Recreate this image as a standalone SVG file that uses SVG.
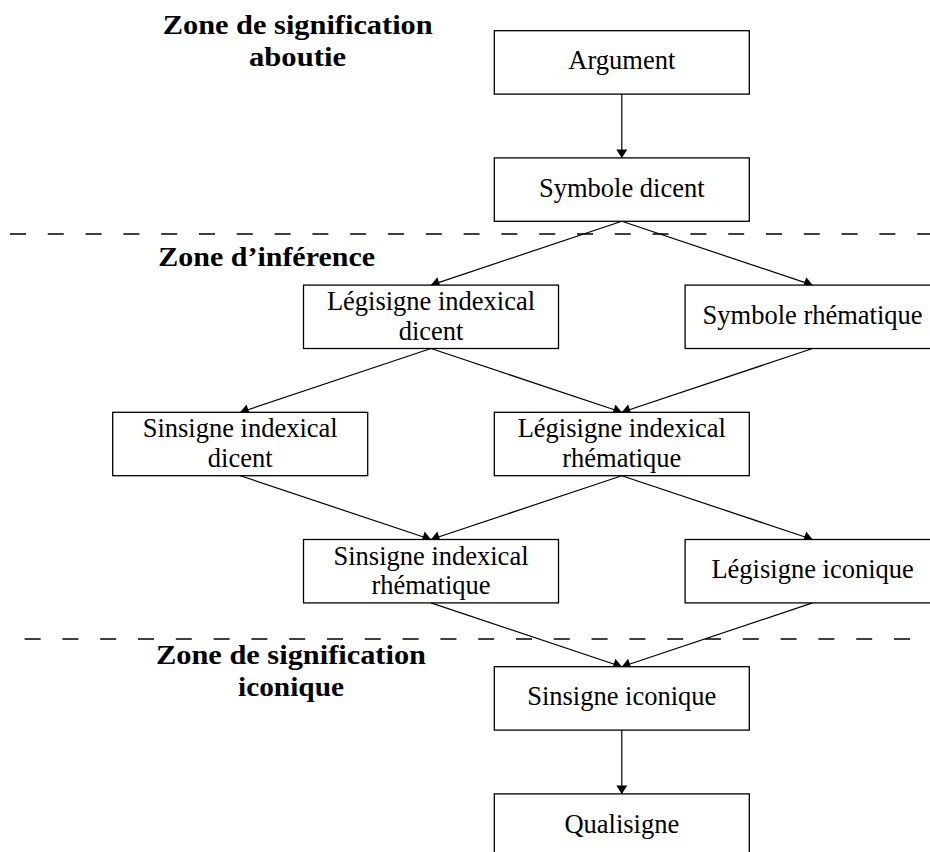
<svg xmlns="http://www.w3.org/2000/svg" width="930" height="852" viewBox="0 0 930 852">
<style>
.box{fill:#fff;stroke:#000;stroke-width:1.3}
.t{font-family:"Liberation Serif","Times New Roman",serif;font-size:26.5px;fill:#000;text-anchor:middle}
.h{font-family:"Liberation Serif","Times New Roman",serif;font-size:28px;font-weight:bold;fill:#000}
.e{stroke:#000;stroke-width:1.2;fill:none;marker-end:url(#ah)}
.d{stroke:#000;stroke-width:1.3;stroke-dasharray:16 21.8;fill:none}
</style>
<defs>
<marker id="ah" viewBox="-9 -6 10 12" refX="0" refY="0" markerWidth="10" markerHeight="12" markerUnits="userSpaceOnUse" orient="auto">
<path d="M0,0 L-8.5,-5.5 L-8.5,5.5 Z" fill="#000"/>
</marker>
</defs>
<rect width="930" height="852" fill="#fff"/>
<g id="zones">
<line class="d" x1="10" y1="234" x2="935" y2="234"/>
<line class="d" x1="24.6" y1="639" x2="935" y2="639"/>
<text class="h" x="297.7" y="34" text-anchor="middle"><tspan x="297.7" y="34" textLength="270" lengthAdjust="spacingAndGlyphs">Zone de signification</tspan><tspan x="297.5" y="66" textLength="97" lengthAdjust="spacingAndGlyphs">aboutie</tspan></text>
<text class="h" x="158.3" y="265.7" textLength="216.7" lengthAdjust="spacingAndGlyphs">Zone d’inférence</text>
<text class="h" x="291" y="663.5" text-anchor="middle"><tspan x="291" y="663.5" textLength="270" lengthAdjust="spacingAndGlyphs">Zone de signification</tspan><tspan x="291" y="695.5" textLength="106" lengthAdjust="spacingAndGlyphs">iconique</tspan></text>
</g>
<g id="connectors">
<line class="e" x1="621.8" y1="94.1" x2="621.8" y2="157.9"/>
<line class="e" x1="621.8" y1="221.3" x2="431" y2="285.1"/>
<line class="e" x1="621.8" y1="221.3" x2="812.6" y2="285.1"/>
<line class="e" x1="431" y1="348.5" x2="240.2" y2="412.3"/>
<line class="e" x1="431" y1="348.5" x2="621.8" y2="412.3"/>
<line class="e" x1="812.6" y1="348.5" x2="621.8" y2="412.3"/>
<line class="e" x1="240.2" y1="475.7" x2="431" y2="539.5"/>
<line class="e" x1="621.8" y1="475.7" x2="431" y2="539.5"/>
<line class="e" x1="621.8" y1="475.7" x2="812.6" y2="539.5"/>
<line class="e" x1="431" y1="602.9" x2="621.8" y2="666.7"/>
<line class="e" x1="812.6" y1="602.9" x2="621.8" y2="666.7"/>
<line class="e" x1="621.8" y1="730.1" x2="621.8" y2="793.9"/>
</g>
<g id="argument">
<rect class="box" x="494.3" y="30.7" width="255" height="63.4"/>
<text class="t" x="621.8" y="69.4">Argument</text>
</g>
<g id="symbole-dicent">
<rect class="box" x="494.3" y="157.9" width="255" height="63.4"/>
<text class="t" x="621.8" y="196.6">Symbole dicent</text>
</g>
<g id="legisigne-indexical-dicent">
<rect class="box" x="303.5" y="285.1" width="255" height="63.4"/>
<text class="t" x="431" y="310.2"><tspan x="431" y="310.2">Légisigne indexical</tspan><tspan x="431" y="339.6">dicent</tspan></text>
</g>
<g id="symbole-rhematique">
<rect class="box" x="685.1" y="285.1" width="255" height="63.4"/>
<text class="t" x="812.6" y="323.8">Symbole rhématique</text>
</g>
<g id="sinsigne-indexical-dicent">
<rect class="box" x="112.7" y="412.3" width="255" height="63.4"/>
<text class="t" x="240.2" y="437.4"><tspan x="240.2" y="437.4">Sinsigne indexical</tspan><tspan x="240.2" y="466.8">dicent</tspan></text>
</g>
<g id="legisigne-indexical-rhematique">
<rect class="box" x="494.3" y="412.3" width="255" height="63.4"/>
<text class="t" x="621.8" y="437.4"><tspan x="621.8" y="437.4">Légisigne indexical</tspan><tspan x="621.8" y="466.8">rhématique</tspan></text>
</g>
<g id="sinsigne-indexical-rhematique">
<rect class="box" x="303.5" y="539.5" width="255" height="63.4"/>
<text class="t" x="431" y="564.6"><tspan x="431" y="564.6">Sinsigne indexical</tspan><tspan x="431" y="594">rhématique</tspan></text>
</g>
<g id="legisigne-iconique">
<rect class="box" x="685.1" y="539.5" width="255" height="63.4"/>
<text class="t" x="812.6" y="578.2">Légisigne iconique</text>
</g>
<g id="sinsigne-iconique">
<rect class="box" x="494.3" y="666.7" width="255" height="63.4"/>
<text class="t" x="621.8" y="705.4">Sinsigne iconique</text>
</g>
<g id="qualisigne">
<rect class="box" x="494.3" y="793.9" width="255" height="63.4"/>
<text class="t" x="621.8" y="832.6">Qualisigne</text>
</g>
</svg>
